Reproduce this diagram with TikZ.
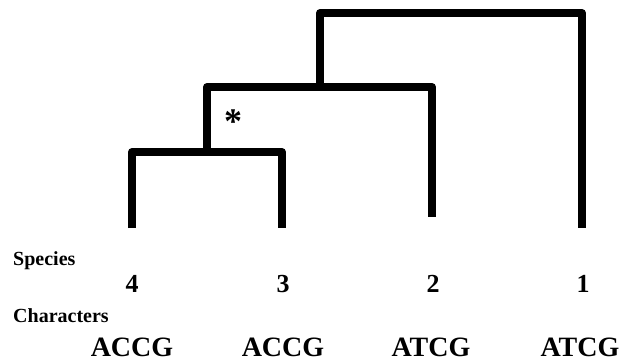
\documentclass[tikz,border=0pt]{standalone}
\usepackage{fontspec}
\setmainfont{Liberation Serif}
\begin{document}
\begin{tikzpicture}[x=1pt,y=-1pt,
  branch/.style={line width=8pt,line join=round,line cap=butt},
  rowlabel/.style={font=\bfseries\fontsize{20}{22}\selectfont,anchor=base west,inner sep=0pt},
  species/.style={font=\bfseries\fontsize{26}{28}\selectfont,anchor=base,inner sep=0pt},
  seq/.style={font=\bfseries\fontsize{28}{32}\selectfont,anchor=base,inner sep=0pt}]
\useasboundingbox (0,0) rectangle (623,362);
% leaf tips
\coordinate (t4) at (132,228);
\coordinate (t3) at (282,228);
\coordinate (t2) at (432,217);
\coordinate (t1) at (582,228);
% internal nodes (heights of the joining bars)
\coordinate (n43) at (207,152);
\coordinate (n432) at (320,87);
\coordinate (root) at (320,13);
% clade (4,3)
\draw[branch] (t4) |- (n43) -| (t3);
% clade ((4,3),2)
\draw[branch] (n43) -- (n43 |- n432) -| (t2);
\draw[branch] (n43 |- n432) -- (n432);
% clade (((4,3),2),1)
\draw[branch] (n432) -- (root) -| (t1);
% marker on the branch above (4,3)
\node[font=\bfseries\fontsize{36}{38}\selectfont,inner sep=0pt] (star) at (233,122) {*};
% row labels
\node[rowlabel] (lspecies) at (13,265) {Species};
\node[rowlabel] (lchars) at (13,322) {Characters};
% species numbers
\node[species] (s4) at (132,292) {4};
\node[species] (s3) at (283,292) {3};
\node[species] (s2) at (433,292) {2};
\node[species] (s1) at (583,292) {1};
% character sequences
\node[seq] (q4) at (132,356) {ACCG};
\node[seq] (q3) at (283,356) {ACCG};
\node[seq] (q2) at (431,356) {ATCG};
\node[seq] (q1) at (580,356) {ATCG};
\end{tikzpicture}
\end{document}
